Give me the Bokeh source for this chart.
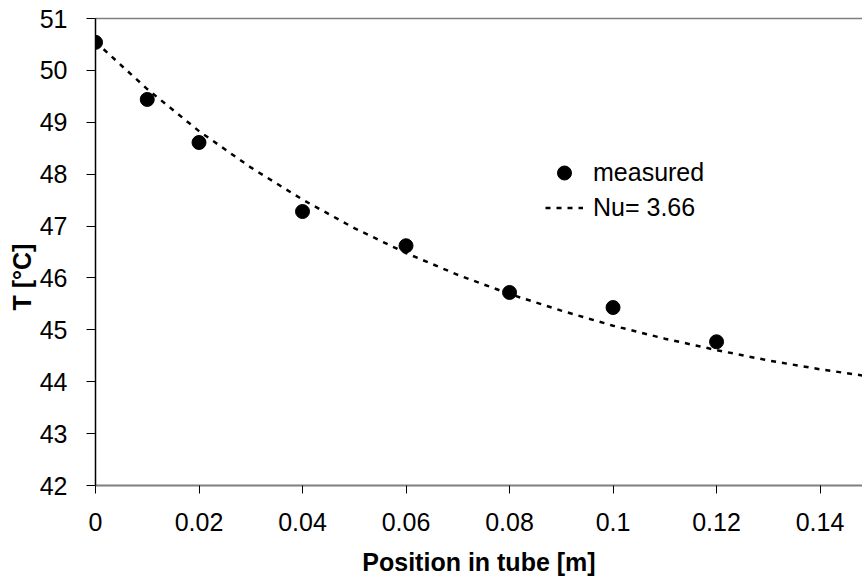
from bokeh.plotting import figure
from bokeh.models import (Range1d, FixedTicker, CustomJSTickFormatter, LinearAxis,
                          Legend, LegendItem, Title)
from bokeh.embed import file_html
from bokeh.resources import INLINE

# measured data
pos_measured = [0.0, 0.01, 0.02, 0.04, 0.06, 0.08, 0.10, 0.12]
temp_measured = [50.54, 49.44, 48.61, 47.28, 46.62, 45.72, 45.43, 44.77]

# model curve (Nu = 3.66)
pos_model = [0.0, 0.01, 0.02, 0.03, 0.04, 0.05, 0.06, 0.07, 0.08, 0.09,
             0.10, 0.11, 0.12, 0.13, 0.14, 0.1482]
temp_model = [50.55, 49.64, 48.83, 48.13, 47.51, 46.96, 46.48, 46.06, 45.69, 45.37,
              45.08, 44.83, 44.61, 44.41, 44.24, 44.12]

x_ticks = [0, 0.02, 0.04, 0.06, 0.08, 0.10, 0.12, 0.14]
y_ticks = [42, 43, 44, 45, 46, 47, 48, 49, 50, 51]

FONT = "Liberation Sans"
FS = "25px"

p = figure(width=862, height=579, output_backend="svg", toolbar_location=None,
           x_range=Range1d(0, 0.1482), y_range=Range1d(42, 51),
           min_border_left=95, min_border_right=0, min_border_top=18,
           min_border_bottom=94)
p.outline_line_color = None
p.xgrid.visible = False
p.ygrid.visible = False
p.background_fill_color = "white"
p.border_fill_color = "white"

line = p.line(pos_model, temp_model, line_color="black", line_width=2.5,
              line_dash="5 6")
pts = p.scatter(pos_measured, temp_measured, size=14, marker="circle",
                fill_color="black", line_color="black")

# x axis
xa = p.xaxis[0]
xa.ticker = FixedTicker(ticks=x_ticks)
xa.formatter = CustomJSTickFormatter(code="""
let s = tick.toFixed(2);
s = s.replace(/0+$/, '').replace(/\\.$/, '');
return s;
""")
xa.axis_line_color = "#7f7f7f"
xa.axis_line_width = 2
xa.major_tick_line_color = "black"
xa.major_tick_out = 8
xa.major_tick_in = 0
xa.minor_tick_line_color = None
xa.major_label_text_font = FONT
xa.major_label_text_font_size = FS
xa.major_label_text_color = "black"
xa.major_label_standoff = 19
xa.axis_label = "Position in tube [m]"
xa.axis_label_text_font = FONT
xa.axis_label_text_font_size = FS
xa.axis_label_text_font_style = "bold"
xa.axis_label_text_color = "black"
xa.axis_label_standoff = 14

# y axis
ya = p.yaxis[0]
ya.ticker = FixedTicker(ticks=y_ticks)
ya.axis_line_color = "black"
ya.axis_line_width = 1.5
ya.major_tick_line_color = "black"
ya.major_tick_out = 9
ya.major_tick_in = 0
ya.minor_tick_line_color = None
ya.major_label_text_font = FONT
ya.major_label_text_font_size = FS
ya.major_label_text_color = "black"
ya.major_label_standoff = 19

# y axis title, slightly below the centre as in the reference
ytitle = Title(text="T [°C]", align="left", offset=175, standoff=1,
               text_font=FONT, text_font_size=FS, text_font_style="bold",
               text_color="black")
p.add_layout(ytitle, "left")

# top border line
top = LinearAxis(ticker=FixedTicker(ticks=[]), axis_line_color="#7f7f7f",
                 axis_line_width=1.5, major_label_text_font_size="0px",
                 major_tick_line_color=None, minor_tick_line_color=None)
p.add_layout(top, "above")

legend = Legend(items=[LegendItem(label="measured", renderers=[pts]),
                       LegendItem(label="Nu= 3.66", renderers=[line])],
                location=(450, 260), border_line_color=None,
                background_fill_alpha=0, padding=0, margin=0, spacing=0,
                glyph_width=38, glyph_height=35, label_height=35,
                label_standoff=10, label_text_font=FONT,
                label_text_font_size=FS, label_text_color="black")
p.add_layout(legend, "center")

open("out.html", "w").write(file_html(p, INLINE))
